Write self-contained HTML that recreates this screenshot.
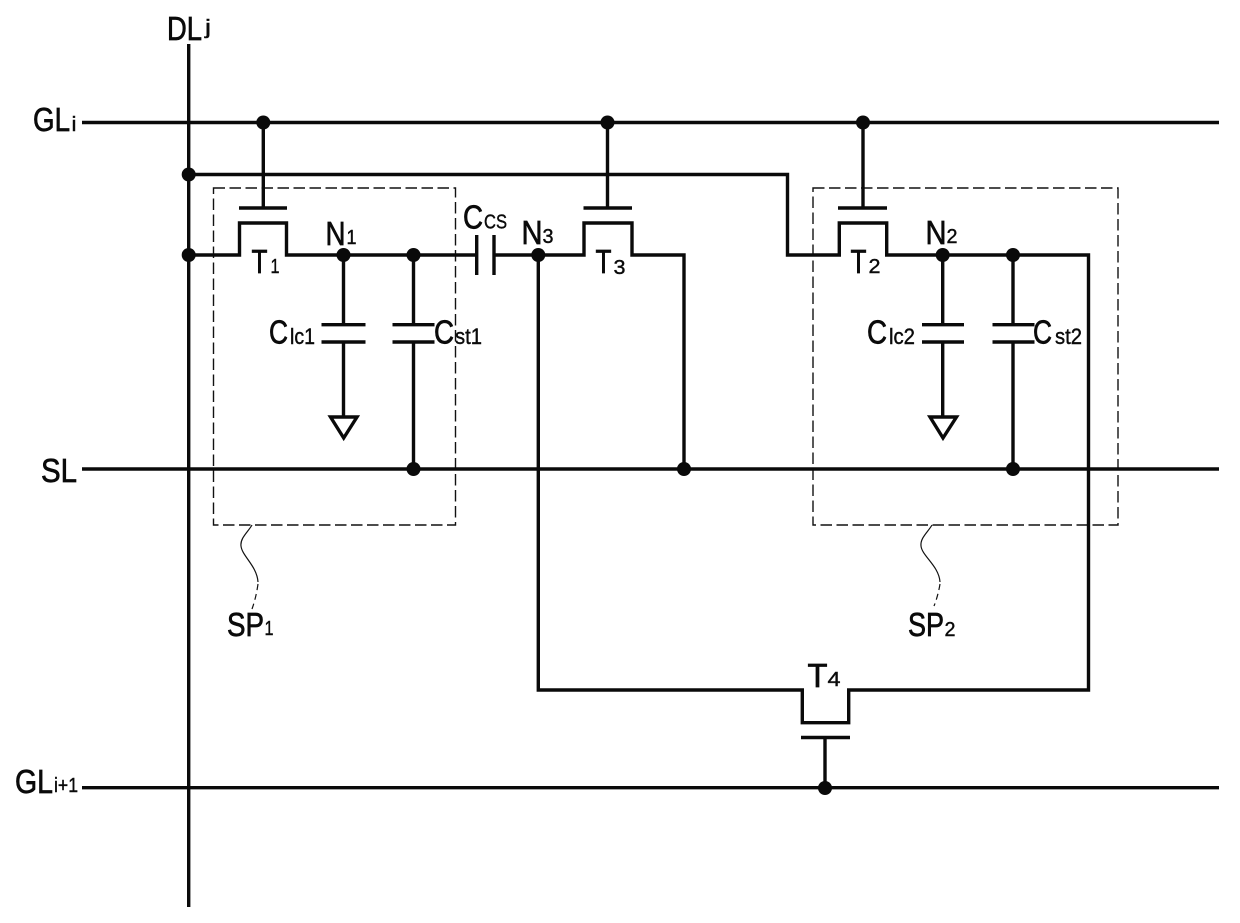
<!DOCTYPE html>
<html>
<head>
<meta charset="utf-8">
<style>
html,body{margin:0;padding:0;background:#fff;width:1240px;height:923px;overflow:hidden}
svg{display:block;filter:blur(.35px)}
text{font-family:"Liberation Sans",sans-serif;fill:#0a0a0a;stroke:#0a0a0a;stroke-width:.7}
.s,.m{stroke-width:.4}
.l{stroke:#0a0a0a;stroke-width:3.4;fill:none}
.d{stroke:#111;stroke-width:1.4;fill:none;stroke-dasharray:11.5 4.5}
.q{stroke:#111;stroke-width:1.2;fill:none}
.b{font-size:33px}
.s{font-size:20px}
.m{font-size:22px}
</style>
</head>
<body>
<svg width="1240" height="923" viewBox="0 0 1240 923" xmlns="http://www.w3.org/2000/svg">
<!-- dashed boxes -->
<rect class="d" x="213.5" y="188" width="242" height="337"/>
<rect class="d" x="813" y="188" width="305" height="337"/>
<!-- main lines -->
<path class="l" d="M188.7 44V907"/>
<path class="l" d="M82 122.5H1219"/>
<path class="l" d="M82 469H1219"/>
<path class="l" d="M82 787.7H1219"/>
<!-- second data branch -->
<path class="l" d="M189 174.5H787.5V255H839.3V223H886.7V255H1088.5V690H848.7V722.7H802.3V690H538.3V255"/>
<!-- T1 row -->
<path class="l" d="M189 255H239.5V223H286.5V255H476.7"/>
<path class="l" d="M476.7 235V275M494 235V275"/>
<path class="l" d="M494 255H584V223H632V255H684V469"/>
<!-- gates -->
<path class="l" d="M263.3 122V208M239 208H287"/>
<path class="l" d="M607.5 122V208M583.5 208H632"/>
<path class="l" d="M863 122V208M838 208H887"/>
<path class="l" d="M825 788V737.5M801 737.5H850"/>
<!-- Clc1 -->
<path class="l" d="M343.5 255V324.7M321.5 324.7H365.5M321.5 342H365.5M343.5 342V417"/>
<path class="l" d="M330.5 417H357L343.7 438Z"/>
<!-- Cst1 -->
<path class="l" d="M413.5 255V324.7M392.5 324.7H434.5M392.5 342H434.5M413.5 342V469"/>
<!-- Clc2 -->
<path class="l" d="M942.7 255V324.7M922 324.7H964M922 342H964M942.7 342V417"/>
<path class="l" d="M930 417H956.5L943 438Z"/>
<!-- Cst2 -->
<path class="l" d="M1013 255V324.7M992.5 324.7H1034.5M992.5 342H1034.5M1013 342V469"/>
<!-- squiggles -->
<path class="q" d="M252 525C248 532 240 538 241 546C242 556 257 566 258 582"/>
<path class="q" stroke-dasharray="6 4" d="M258 584Q256 598 252 609"/>
<path class="q" d="M932 525C928 532 920 538 921 546C922 556 939 566 940 582"/>
<path class="q" stroke-dasharray="6 4" d="M940 584Q938 596 934 606"/>
<!-- dots -->
<g fill="#0a0a0a">
<circle cx="263.3" cy="122.5" r="7"/><circle cx="607.5" cy="122.5" r="7"/><circle cx="863" cy="122.5" r="7"/>
<circle cx="188.7" cy="174.5" r="7"/><circle cx="188.7" cy="255" r="7"/>
<circle cx="343.5" cy="255" r="7"/><circle cx="413.5" cy="255" r="7"/><circle cx="538.3" cy="255" r="7"/>
<circle cx="942.7" cy="255" r="7"/><circle cx="1013" cy="255" r="7"/>
<circle cx="413.5" cy="469" r="7"/><circle cx="684" cy="469" r="7"/><circle cx="1013" cy="469" r="7"/>
<circle cx="825" cy="788" r="7"/>
</g>
<!-- labels -->
<text class="b" x="167" y="40" textLength="35" lengthAdjust="spacingAndGlyphs">DL</text><text class="s" x="205" y="34" textLength="6" lengthAdjust="spacingAndGlyphs">j</text>
<text class="b" x="33" y="131" textLength="37" lengthAdjust="spacingAndGlyphs">GL</text><text class="s" x="71.5" y="131" textLength="5" lengthAdjust="spacingAndGlyphs">i</text>
<text class="b" x="41" y="482" textLength="36" lengthAdjust="spacingAndGlyphs">SL</text>
<text class="b" x="15" y="793" textLength="38" lengthAdjust="spacingAndGlyphs">GL</text><text class="s" x="54" y="792" textLength="24" lengthAdjust="spacingAndGlyphs">i+1</text>
<text class="b" x="251.5" y="273" textLength="16" lengthAdjust="spacingAndGlyphs">T</text><text class="s" x="270.5" y="273" textLength="9" lengthAdjust="spacingAndGlyphs">1</text>
<text class="b" x="595.5" y="273" textLength="16" lengthAdjust="spacingAndGlyphs">T</text><text class="s" x="613.5" y="274" textLength="12" lengthAdjust="spacingAndGlyphs">3</text>
<text class="b" x="850.5" y="273" textLength="16" lengthAdjust="spacingAndGlyphs">T</text><text class="s" x="868.5" y="273" textLength="12" lengthAdjust="spacingAndGlyphs">2</text>
<text class="b" x="807.5" y="687" textLength="20" lengthAdjust="spacingAndGlyphs">T</text><text class="s" x="827.5" y="686" textLength="13" lengthAdjust="spacingAndGlyphs">4</text>
<text class="b" x="325.5" y="245" textLength="20" lengthAdjust="spacingAndGlyphs">N</text><text class="s" x="346.5" y="244" textLength="10" lengthAdjust="spacingAndGlyphs">1</text>
<text class="b" x="521.5" y="244" textLength="21" lengthAdjust="spacingAndGlyphs">N</text><text class="s" x="542.5" y="243" textLength="11" lengthAdjust="spacingAndGlyphs">3</text>
<text class="b" x="925.5" y="244" textLength="21" lengthAdjust="spacingAndGlyphs">N</text><text class="s" x="946.5" y="243" textLength="11" lengthAdjust="spacingAndGlyphs">2</text>
<text class="b" x="463" y="228.5" textLength="20" lengthAdjust="spacingAndGlyphs">C</text><text class="s" x="484" y="228.5" textLength="23" lengthAdjust="spacingAndGlyphs">CS</text>
<text class="b" x="269" y="343.5" textLength="19" lengthAdjust="spacingAndGlyphs">C</text><text class="m" x="290" y="344" textLength="25" lengthAdjust="spacingAndGlyphs">lc1</text>
<text class="b" x="434" y="343.5" textLength="20" lengthAdjust="spacingAndGlyphs">C</text><text class="m" x="455" y="344" textLength="27" lengthAdjust="spacingAndGlyphs">st1</text>
<text class="b" x="867" y="343.5" textLength="20" lengthAdjust="spacingAndGlyphs">C</text><text class="m" x="889" y="344" textLength="26" lengthAdjust="spacingAndGlyphs">lc2</text>
<text class="b" x="1033" y="343.5" textLength="19" lengthAdjust="spacingAndGlyphs">C</text><text class="m" x="1055" y="344" textLength="27" lengthAdjust="spacingAndGlyphs">st2</text>
<text class="b" x="227" y="636" textLength="37" lengthAdjust="spacingAndGlyphs">SP</text><text class="s" x="264.5" y="635" textLength="9" lengthAdjust="spacingAndGlyphs">1</text>
<text class="b" x="908" y="636" textLength="36" lengthAdjust="spacingAndGlyphs">SP</text><text class="s" x="944.5" y="636" textLength="11" lengthAdjust="spacingAndGlyphs">2</text>
</svg>
</body>
</html>
